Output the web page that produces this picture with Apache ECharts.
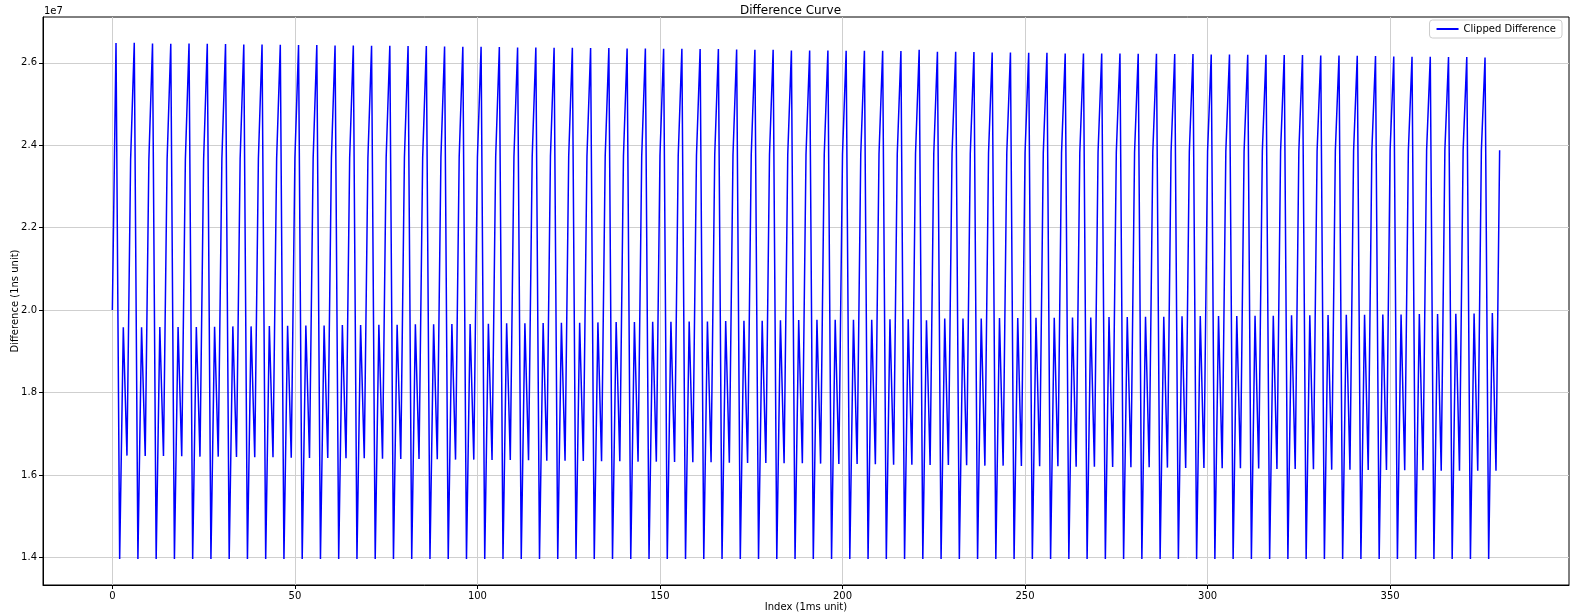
<!DOCTYPE html>
<html>
<head>
<meta charset="utf-8">
<script src="https://cdn.jsdelivr.net/npm/echarts@6/dist/echarts.min.js"></script>
<style>
html,body{margin:0;padding:0;background:#fff;}
#chart{width:1581px;height:614px;}
</style>
</head>
<body>
<div id="chart"></div>
<script>
// ---- Data (values in 1ns units) ----
const startValue = 20000000;
// each cycle of 5 samples: peak, trough, upper-middle, lower-middle, rising
const peakValues = [
26477000,26485000,26468000,26460000,26468000,26460000,26452000,26444000,26444000,26436000,
26428000,26428000,26420000,26420000,26412000,26412000,26404000,26404000,26396000,26388000,
26388000,26380000,26372000,26372000,26363000,26363000,26355000,26355000,26347000,26347000,
26339000,26339000,26331000,26331000,26323000,26315000,26315000,26299000,
26299000,26299000,26291000,26291000,26291000,26283000,26315000,26267000,26267000,26258000,
26250000,26250000,26242000,26242000,26226000,26226000,26226000,26226000,26218000,26218000,
26210000,26210000,26202000,26202000,26194000,26194000,26186000,26186000,26178000,26178000,
26170000,26162000,26153000,26145000,26145000,26137000,26137000,26129000
];
const troughValues = [
13960000,13960000,13960000,13960000,13960000,13960000,13960000,13960000,13960000,13960000,
13960000,13960000,13960000,13960000,13960000,13960000,13960000,13960000,13960000,13960000,
13960000,13960000,13960000,13960000,13960000,13960000,13960000,13960000,13960000,13960000,
13960000,13960000,13960000,13960000,13960000,13960000,13960000,13960000,13960000,13960000,
13960000,13960000,13960000,13960000,13960000,13960000,13960000,13960000,13960000,13960000,
13960000,13960000,13960000,13960000,13960000,13960000,13960000,13960000,13960000,13960000,
13960000,13960000,13960000,13960000,13960000,13960000,13960000,13960000,13960000,13960000,
13960000,13960000,13960000,13960000,13960000,13960000
];
const upperMidValues = [
19580000,19580000,19588000,19588000,19588000,19596000,19604000,19604000,19612000,19620000,
19628000,19628000,19637000,19637000,19645000,19645000,19653000,19653000,19661000,19661000,
19669000,19677000,19677000,19685000,19693000,19693000,19701000,19709000,19709000,19717000,
19717000,19725000,19725000,19733000,19742000,19742000,19750000,19758000,
19766000,19766000,19766000,19766000,19774000,19774000,19750000,19798000,19798000,19798000,
19806000,19806000,19814000,19814000,19822000,19822000,19830000,19830000,19838000,19838000,
19847000,19855000,19855000,19855000,19863000,19863000,19871000,19871000,19879000,19887000,
19887000,19895000,19895000,19903000,19903000,19911000,19919000,19927000
];
const lowerMidValues = [
16469000,16460000,16460000,16452000,16444000,16444000,16436000,16428000,16428000,16420000,
16412000,16412000,16404000,16404000,16396000,16388000,16388000,16380000,16372000,16372000,
16364000,16364000,16355000,16347000,16347000,16339000,16331000,16331000,16323000,16323000,
16315000,16307000,16307000,16299000,16291000,16291000,16283000,16283000,16275000,16267000,
16267000,16259000,16250000,16250000,16242000,16242000,16234000,16226000,16226000,16218000,
16210000,16210000,16202000,16202000,16194000,16186000,16186000,16178000,16170000,16170000,
16162000,16162000,16154000,16145000,16145000,16137000,16129000,16129000,16121000,16121000,
16113000,16113000,16105000,16105000,16105000,16105000
];
const risingValues = [
23650000,23650000,23660000,23660000,23660000,23670000,23670000,23670000,23680000,23680000,
23680000,23690000,23690000,23690000,23700000,23700000,23700000,23710000,23710000,23710000,
23720000,23720000,23720000,23730000,23730000,23730000,23740000,23740000,23740000,23750000,
23750000,23750000,23760000,23760000,23760000,23770000,23770000,23770000,23780000,23780000,
23780000,23790000,23790000,23790000,23800000,23800000,23800000,23810000,23810000,23810000,
23820000,23820000,23820000,23830000,23830000,23830000,23840000,23840000,23840000,23850000,
23850000,23850000,23860000,23860000,23860000,23860000,23870000,23870000,23870000,23870000,
23870000,23880000,23880000,23880000,23880000,23880000
];
const xTickValues = [0, 50, 100, 150, 200, 250, 300, 350];
const yTickValues = [14000000, 16000000, 18000000, 20000000, 22000000, 24000000, 26000000];
const titleText = 'Difference Curve';
const xAxisName = 'Index (1ms unit)';
const yAxisName = 'Difference (1ns unit)';
const seriesName = 'Clipped Difference';

// build series (index, value)
const seriesData = [[0, startValue]];
for (let k = 0; k < peakValues.length; k++) {
  const cyc = [peakValues[k], troughValues[k], upperMidValues[k], lowerMidValues[k], risingValues[k]];
  for (let j = 0; j < 5; j++) {
    seriesData.push([seriesData.length, cyc[j]]);
  }
}

const FONT = 'DejaVu Sans';
const chart = echarts.init(document.getElementById('chart'), null, {renderer: 'canvas'});
chart.setOption({
  animation: false,
  backgroundColor: '#ffffff',
  title: {
    text: titleText, left: 'center', top: 0,
    textStyle: {fontFamily: FONT, fontSize: 12, fontWeight: 'normal', color: '#000'}
  },
  legend: {
    right: 19, top: 20,
    itemWidth: 22, itemHeight: 10,
    padding: [4, 6, 4, 6],
    borderColor: '#cccccc', borderWidth: 1, borderRadius: 3,
    backgroundColor: '#fff',
    textStyle: {fontFamily: FONT, fontSize: 10, color: '#000'},
    itemStyle: {color: 'transparent', borderColor: 'transparent', borderWidth: 0},
    data: [{name: seriesName}]
  },
  grid: {
    left: 43, right: 12, top: 17, bottom: 29,
    outerBoundsMode: 'none', containLabel: false,
    show: true, borderColor: '#000', borderWidth: 1, backgroundColor: 'transparent'
  },
  graphic: [{
    type: 'text', left: 44, top: 6,
    style: {text: '1e7', font: '10px "DejaVu Sans"', fill: '#000'}
  }],
  xAxis: {
    type: 'value', min: -19, max: 399,
    name: xAxisName, nameLocation: 'middle', nameGap: 17, nameMoveOverlap: false,
    nameTextStyle: {fontFamily: FONT, fontSize: 10, color: '#000'},
    axisLine: {show: true, onZero: false, lineStyle: {color: '#000', width: 1}},
    axisTick: {show: true, length: 4, customValues: xTickValues, lineStyle: {color: '#000'}},
    axisLabel: {customValues: xTickValues, fontFamily: FONT, fontSize: 10, color: '#000', margin: 6},
    splitLine: {show: true, lineStyle: {color: '#cfcfcf', width: 1}}
  },
  yAxis: {
    type: 'value', min: 13330000, max: 27110000,
    name: yAxisName, nameLocation: 'middle', nameGap: 23, nameRotate: 90, nameMoveOverlap: false,
    nameTextStyle: {fontFamily: FONT, fontSize: 10, color: '#000'},
    axisLine: {show: true, onZero: false, lineStyle: {color: '#000', width: 1}},
    axisTick: {show: true, length: 4, customValues: yTickValues, lineStyle: {color: '#000'}},
    axisLabel: {
      customValues: yTickValues, fontFamily: FONT, fontSize: 10, color: '#000', margin: 6,
      formatter: v => (v / 1e7).toFixed(1)
    },
    splitLine: {show: true, lineStyle: {color: '#cfcfcf', width: 1}}
  },
  series: [{
    name: seriesName, type: 'line', data: seriesData,
    showSymbol: false, symbol: 'none', sampling: null,
    lineStyle: {color: '#0000ff', width: 1.5},
    itemStyle: {color: '#0000ff'}
  }]
});
</script>
</body>
</html>
